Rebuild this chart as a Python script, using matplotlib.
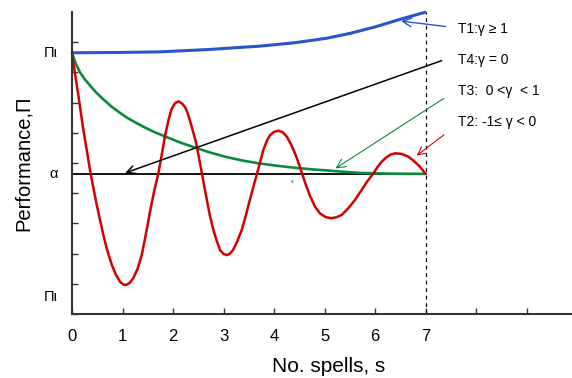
import matplotlib
matplotlib.use("Agg")
import matplotlib.pyplot as plt

plt.rcParams['font.family'] = ['Liberation Sans', 'DejaVu Sans']

# levels (axis units: 1 per tick)
pi_top = 8.65
alpha = 4.64
pi_low = 0.56

# T1: gamma >= 1 (blue, rises)
blue_x = [0, 0.9, 1.74, 2.73, 3.72, 4.4, 5.04, 5.5, 6.03, 6.5, 6.99]
blue_y = [8.65, 8.66, 8.68, 8.76, 8.87, 8.98, 9.13, 9.29, 9.52, 9.76, 9.99]

# T3: 0 < gamma < 1 (green, decays to alpha)
green_x = [0, 0.03, 0.06, 0.1, 0.16, 0.25, 0.36, 0.48, 0.62, 0.78, 0.95,
           1.1, 1.28, 1.45, 1.61, 1.87, 2.14, 2.47, 2.75, 3.03, 3.35, 3.69,
           4.05, 4.42, 4.75, 5.08, 5.4, 5.74, 6.1, 6.4, 7.0]
green_y = [8.65, 8.5, 8.35, 8.2, 8.0, 7.78, 7.56, 7.33, 7.11, 6.87, 6.66,
           6.49, 6.32, 6.17, 6.04, 5.86, 5.68, 5.49, 5.34, 5.21, 5.09, 4.99,
           4.91, 4.84, 4.79, 4.75, 4.705, 4.67, 4.655, 4.645, 4.64]

# T2: -1 <= gamma < 0 (red, oscillates)
red_x = [0, 0.06, 0.125, 0.22, 0.3, 0.37, 0.49, 0.62, 0.7, 0.79, 0.87, 0.95,
         1.01, 1.07, 1.14, 1.21, 1.3, 1.38, 1.46, 1.54, 1.62, 1.71, 1.78,
         1.84, 1.91, 1.97, 2.04, 2.11, 2.18, 2.24, 2.30, 2.35, 2.40, 2.45,
         2.50, 2.57, 2.62, 2.67, 2.73, 2.80, 2.87, 2.93, 3.0, 3.06, 3.12,
         3.19, 3.27, 3.36, 3.44, 3.52, 3.59, 3.66, 3.73, 3.79, 3.86, 3.92,
         4.0, 4.09, 4.17, 4.25, 4.33, 4.42, 4.49, 4.55, 4.63, 4.71, 4.81,
         4.91, 5.02, 5.13, 5.23, 5.34, 5.47, 5.60, 5.72, 5.84, 5.97, 6.05,
         6.13, 6.22, 6.31, 6.40, 6.53, 6.66, 6.76, 6.86, 6.93, 7.0]
red_y = [8.65, 7.95, 7.25, 6.15, 5.35, 4.63, 3.61, 2.62, 2.1, 1.62, 1.3, 1.07,
         0.98, 0.96, 1.03, 1.18, 1.5, 1.95, 2.62, 3.35, 4.02, 4.66, 5.3,
         5.88, 6.42, 6.78, 6.98, 7.04, 6.97, 6.85, 6.6, 6.32, 6.02, 5.72,
         5.3, 4.68, 4.22, 3.78, 3.26, 2.78, 2.4, 2.12, 1.99, 1.95, 1.99,
         2.12, 2.4, 2.78, 3.25, 3.77, 4.2, 4.63, 5.06, 5.44, 5.74, 5.92,
         6.03, 6.07, 6.02, 5.88, 5.64, 5.3, 4.98, 4.68, 4.28, 3.92, 3.56,
         3.33, 3.21, 3.17, 3.2, 3.28, 3.5, 3.77, 4.07, 4.38, 4.66, 4.87,
         5.04, 5.18, 5.28, 5.32, 5.30, 5.21, 5.08, 4.93, 4.79, 4.64]

# T4: gamma = 0 (black)
t4_start = (7.37, 8.42)
t4_tip = (1.0, alpha)

x_ticks = [0, 1, 2, 3, 4, 5, 6, 7, 8, 9]
x_labels = ['0', '1', '2', '3', '4', '5', '6', '7', '', '']
y_ticks = [0, 1, 2, 3, 4, 5, 6, 7, 8, 9]

c_blue = '#2a55c9'
c_green = '#0b8a3e'
c_red = '#d20000'

fig = plt.figure(figsize=(5.72, 3.78), dpi=100)
ax = fig.add_axes([72/572, 1 - 314/378, 500/572, 302/378])

ax.plot([0, 7], [alpha, alpha], color='black', lw=1.3)
ax.plot([7, 7], [0, 10], color='black', lw=0.9, ls=(0, (3, 3)), clip_on=False)

ax.annotate('', xy=t4_tip, xytext=t4_start,
            arrowprops=dict(arrowstyle='->', color='black', lw=1.1, mutation_scale=14))

ax.plot(blue_x, blue_y, color=c_blue, lw=2.2, clip_on=False, solid_capstyle='round')
ax.plot(green_x, green_y, color=c_green, lw=1.9, solid_capstyle='round')
ax.plot(red_x, red_y, color=c_red, lw=1.8, solid_capstyle='round', solid_joinstyle='round')

# label arrows
ax.annotate('', xy=(6.46, 9.71), xytext=(7.45, 9.51),
            arrowprops=dict(arrowstyle='->', color=c_blue, lw=1.0, mutation_scale=16))
ax.annotate('', xy=(5.17, 4.77), xytext=(7.41, 7.19),
            arrowprops=dict(arrowstyle='->', color=c_green, lw=0.8, mutation_scale=16))
ax.annotate('', xy=(6.78, 5.19), xytext=(7.41, 5.99),
            arrowprops=dict(arrowstyle='->', color=c_red, lw=0.8, mutation_scale=14))

txt = dict(fontsize=10, va='center', ha='left')
ax.text(7.64, 9.44, 'T1:γ ≥ 1', **txt)
ax.text(7.64, 8.41, 'T4:γ = 0', **txt)
ax.text(7.64, 7.38, 'T3:  0 <γ  < 1', **txt)
ax.text(7.64, 6.36, 'T2: -1≤ γ < 0', **txt)

ax.text(4.36, 4.36, '‹', fontsize=6, ha='center', va='center')

# y level labels
ax.text(-0.28, pi_top, 'Πι', fontsize=10.5, ha='right', va='center')
ax.text(-0.28, alpha, 'α', fontsize=10.5, ha='right', va='center')
ax.text(-0.28, pi_low, 'Πι', fontsize=10.5, ha='right', va='center')

ax.set_xlim(0, 9.9)
ax.set_ylim(0, 10)
ax.set_xticks(x_ticks)
ax.set_xticklabels(x_labels)
ax.set_yticks(y_ticks)
ax.set_yticklabels([])
ax.tick_params(direction='in', length=4, width=1, colors='#333333', labelcolor='black',
               labelsize=12)
ax.tick_params(axis='x', pad=11)

for side in ['top', 'right']:
    ax.spines[side].set_visible(False)
for side in ['left', 'bottom']:
    ax.spines[side].set_color('#333333')
    ax.spines[side].set_linewidth(1.5)

fig.text(329/572, 1 - 367/378, 'No. spells, s', fontsize=15, ha='center', va='center')
fig.text(23/572, 1 - 163/378, 'Performance,Π', fontsize=14.5, rotation=90,
         ha='center', va='center')

fig.savefig('out.png', dpi=100)
